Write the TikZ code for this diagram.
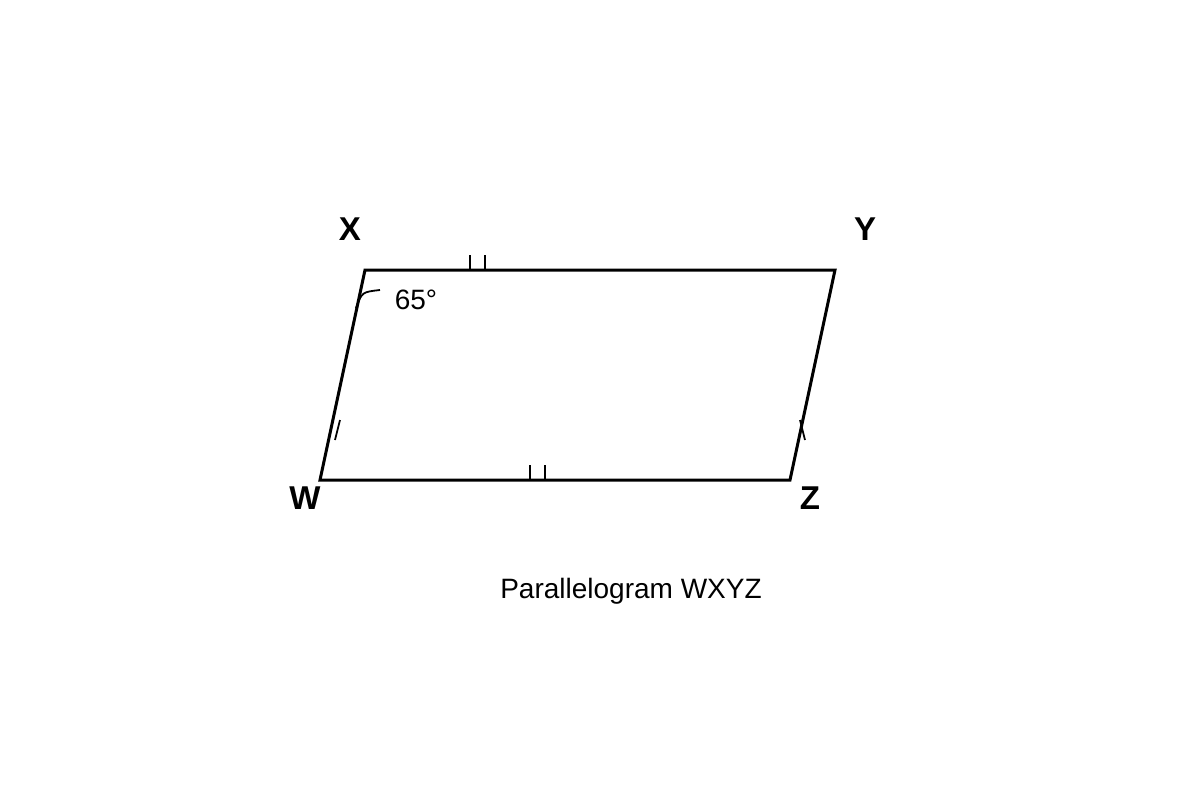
\documentclass[tikz,border=0pt]{standalone}
\usepackage{fontspec}
\setmainfont{Liberation Sans}
\usepackage{tikz}
\usetikzlibrary{positioning,calc}

\begin{document}
\begin{tikzpicture}[
  x=0.5pt, y=-0.5pt,
  side/.style={draw, line width=1.5pt, line join=miter},
  tick/.style={draw, line width=0.9pt},
  vertex/.style={font=\fontsize{16.5}{19}\selectfont\bfseries, inner sep=0pt},
  caption/.style={font=\fontsize{14}{17}\selectfont, inner sep=0pt}
]
\useasboundingbox (0,0) rectangle (1200,800);

% corners
\coordinate (W) at (320,480);
\coordinate (X) at (365,270);
\coordinate (Y) at (835,270);
\coordinate (Z) at (790,480);

\draw[side] (W) -- (X) -- (Y) -- (Z) -- cycle;

% vertex labels
\node[vertex] (labelX) at (350,229) {X};
\node[vertex] (labelY) at (865,229) {Y};
\node[vertex] (labelW) at (305,498) {W};
\node[vertex] (labelZ) at (810,498) {Z};

% equal-side marks
\draw[tick] (470,255) -- (470,270);
\draw[tick] (485,255) -- (485,270);
\draw[tick] (530,465) -- (530,480);
\draw[tick] (545,465) -- (545,480);
\draw[tick] (335,440) -- (340,420);
\draw[tick] (800,420) -- (805,440);

% angle at X
\draw[tick] (356,308) .. controls (362,292) .. (380,290);
\node[caption] (angleX) at (416,300) {65°};

\node[caption] (title) at (631,591) {Parallelogram WXYZ};
\end{tikzpicture}
\end{document}
